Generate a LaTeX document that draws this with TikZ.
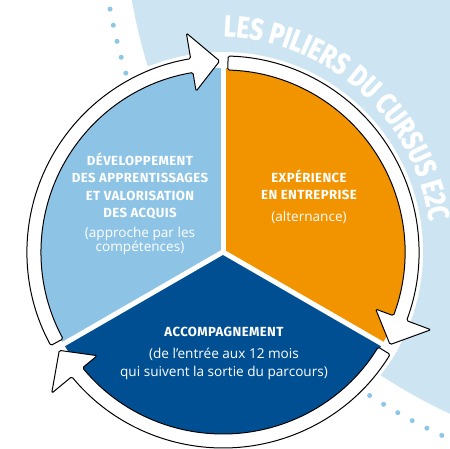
\documentclass[tikz,border=0pt]{standalone}
\usepackage{fontspec}
\setmainfont{Fira Sans}
\newfontfamily\titlefont[LetterSpace=3]{Fira Sans}
\newfontfamily\subfont{Open Sans}
\newfontfamily\arcfont[FakeStretch=0.8, FakeBold=1.2]{Fira Sans}
\usetikzlibrary{positioning,calc,decorations.text}

\definecolor{e2cbg}{HTML}{CDE4F3}
\definecolor{e2csky}{HTML}{8DC4E6}
\definecolor{e2corange}{HTML}{F29400}
\definecolor{e2cnavy}{HTML}{004F92}
\definecolor{e2cdots}{HTML}{8EC6E8}

\begin{document}
\begin{tikzpicture}[
    x=1pt, y=1pt,
    title/.style={text=white, align=center, inner sep=0pt, font=\titlefont\bfseries\fontsize{13.2}{17.5}\selectfont},
    subtitle/.style={text=white, align=center, inner sep=0pt, font=\subfont\fontsize{13.6}{16}\selectfont},
    dots/.style={draw=e2cdots, line width=5pt, line cap=round, dash pattern=on 0pt off 16.5pt},
    divider/.style={draw=white, line width=5pt},
    arrowband/.style={draw=black, fill=white, line width=1pt, rounded corners=1.5pt}
]

% Background
\useasboundingbox (0,0) rectangle (450,449);
\clip (0,0) rectangle (450,449);
\fill[e2cbg] (690,549) circle (567);
\draw[dots] (690,549) circle (590);

% Wheel
\coordinate (c) at (223,197);
\fill[white] (c) circle (200);
\foreach \a/\b/\col in {90/210/e2csky, -30/90/e2corange, 210/330/e2cnavy}
    \fill[\col] (c) -- ($(c)+(\a:184)$) arc[start angle=\a, end angle=\b, radius=184] -- cycle;
\foreach \a in {90,210,330}
    \draw[divider] (c) -- ($(c)+(\a:200)$);

% Arrows round the wheel
\foreach \s/\t in {88.5/-29, 208.5/91, -31.5/-149} {
    \pgfmathsetmacro\b{\t+8.5}
    \draw[arrowband] ($(c)+(\s:196)$) arc[start angle=\s, end angle=\b, radius=196]
        -- ($(c)+(\b:222)$) -- ($(c)+(\t:191)$) -- ($(c)+(\b:163)$) -- ($(c)+(\b:182)$)
        arc[start angle=\b, end angle=\s, radius=182] -- cycle;
}

% Labels
\node[title] (dev) at (140,263) {DÉVELOPPEMENT\\DES APPRENTISSAGES\\ET VALORISATION\\DES ACQUIS};
\node[subtitle, font=\subfont\fontsize{13.6}{14.5}\selectfont, below=7pt of dev] (devsub) {(approche par les\\compétences)};
\node[title] (exp) at (309,264) {EXPÉRIENCE\\EN ENTREPRISE};
\node[subtitle, below=11pt of exp] (expsub) {(alternance)};
\node[title] (acc) at (224,117) {ACCOMPAGNEMENT};
\node[subtitle, font=\subfont\fontsize{13.6}{18}\selectfont, below=11pt of acc] (accsub) {(de l’entrée aux 12 mois\\qui suivent la sortie du parcours)};

% Title along the arc
\path[decorate, decoration={text along path, text color=white, text align=center,
    text={|\arcfont\bfseries\fontsize{30}{30}\selectfont|LES PILIERS DU CURSUS E2C}}]
    (216,198) ++(87:215) arc[start angle=87, end angle=9, radius=215];

\end{tikzpicture}
\end{document}
